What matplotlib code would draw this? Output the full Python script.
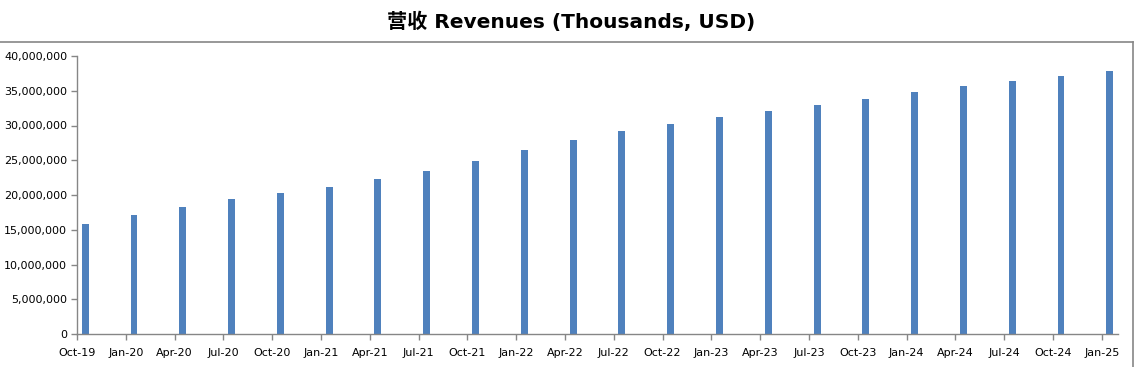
import matplotlib
matplotlib.use("Agg")
import matplotlib.pyplot as plt
from matplotlib.lines import Line2D
from matplotlib.ticker import FuncFormatter
import pandas as pd

periods = ["Oct-19", "Jan-20", "Apr-20", "Jul-20", "Oct-20", "Jan-21", "Apr-21", "Jul-21",
           "Oct-21", "Jan-22", "Apr-22", "Jul-22", "Oct-22", "Jan-23", "Apr-23", "Jul-23",
           "Oct-23", "Jan-24", "Apr-24", "Jul-24", "Oct-24", "Jan-25"]
revenues = [15830000, 17120000, 18270000, 19420000, 20290000, 21150000, 22300000, 23450000,
            24890000, 26470000, 27910000, 29200000, 30220000, 31220000, 32070000, 32950000,
            33800000, 34800000, 35680000, 36400000, 37120000, 37840000]

dates = pd.to_datetime(periods, format="%b-%y")
start = dates[0]
month_idx = [(d.year - start.year) * 12 + (d.month - start.month) for d in dates]

W, H = 1139, 367
fig = plt.figure(figsize=(W / 100, H / 100), dpi=100)
ax = fig.add_axes([77 / W, 1 - 334 / H, (1118 - 77) / W, (334 - 56) / H])

ax.bar([m + 0.5 for m in month_idx], revenues, width=0.42, color="#4f81bd", zorder=2)

ax.set_xlim(0, month_idx[-1] + 1)
ax.set_ylim(0, 40000000)
ax.set_yticks(range(0, 40000001, 5000000))
ax.yaxis.set_major_formatter(FuncFormatter(lambda v, p: f"{int(v):,}"))
ax.set_xticks(month_idx)
ax.set_xticklabels(periods)

for s in ["top", "right"]:
    ax.spines[s].set_visible(False)
for s in ["left", "bottom"]:
    ax.spines[s].set_color("#868686")
    ax.spines[s].set_linewidth(1.0)
ax.tick_params(axis="both", direction="out", length=4, width=1, color="#868686",
               labelsize=8, labelcolor="black")
ax.tick_params(axis="x", pad=6)
ax.tick_params(axis="y", pad=3)

fig.add_artist(Line2D([0, 1133 / W], [1 - 42 / H, 1 - 42 / H], color="#868686", lw=1.2))
fig.add_artist(Line2D([1133 / W, 1133 / W], [0, 1 - 42 / H], color="#868686", lw=1.2))

fig.text(571 / W, 1 - 22 / H, "营收 Revenues (Thousands, USD)", ha="center", va="center",
         fontsize=14.5, fontweight="bold", family=["DejaVu Sans", "Noto Sans CJK SC"])

fig.savefig("out.png", dpi=100)
